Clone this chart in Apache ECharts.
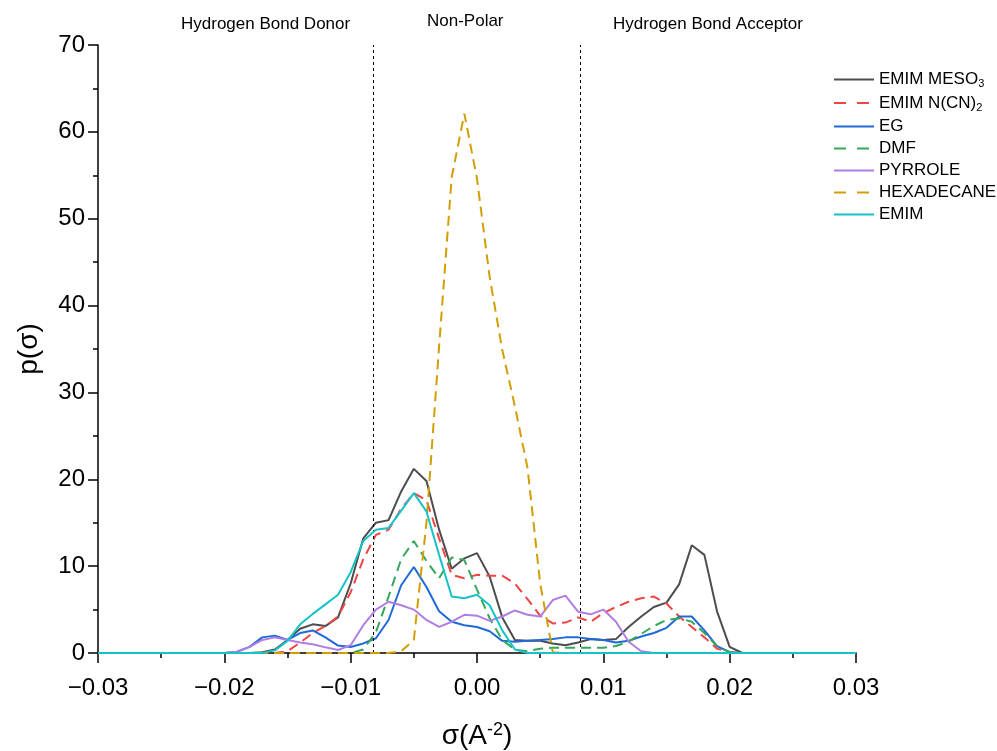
<!DOCTYPE html>
<html>
<head>
<meta charset="utf-8">
<title>Sigma profiles</title>
<script src="https://cdn.jsdelivr.net/npm/echarts@6/dist/echarts.min.js"></script>
<style>
  html, body { margin: 0; padding: 0; background: #fff; }
  #chart { width: 997px; height: 751px; }
</style>
</head>
<body>
<div id="chart"></div>
<script>
// Screening charge density grid, e/Å²
const sigma = [
  -0.030, -0.020, -0.019, -0.018, -0.017, -0.016, -0.015, -0.014, -0.013, -0.012, -0.011,
  -0.010, -0.009, -0.008, -0.007, -0.006, -0.005, -0.004, -0.003, -0.002, -0.001,
  0.000, 0.001, 0.002, 0.003, 0.004, 0.005, 0.006, 0.007, 0.008, 0.009,
  0.010, 0.011, 0.012, 0.013, 0.014, 0.015, 0.016, 0.017, 0.018, 0.019,
  0.020, 0.021, 0.030
];

// p(σ) for each compound on the grid above
const emimMeso3 = [
  0, 0, 0, 0, 0.1, 0.4, 1.5, 2.8, 3.3, 3.1, 4.1,
  8.0, 13.2, 15.0, 15.3, 18.6, 21.2, 19.8, 14.2, 9.7, 10.9,
  11.5, 8.8, 4.1, 1.5, 1.4, 1.4, 1.1, 0.9, 1.2, 1.6,
  1.5, 1.6, 3.0, 4.2, 5.3, 5.8, 7.9, 12.4, 11.3, 4.8,
  0.7, 0, 0
];
const emimNcn2 = [
  0, 0, 0, 0, 0, 0, 0.2, 1.2, 2.3, 3.1, 4.2,
  7.0, 10.8, 13.6, 14.2, 16.6, 18.4, 17.6, 13.2, 9.0, 8.6,
  9.0, 8.9, 8.9, 8.0, 6.2, 4.3, 3.4, 3.5, 4.1, 3.6,
  4.6, 5.3, 5.9, 6.3, 6.5, 5.7, 4.2, 3.0, 1.8, 0.5,
  0.1, 0, 0
];
const eg = [
  0, 0, 0.15, 0.7, 1.8, 2.0, 1.5, 2.3, 2.6, 1.8, 0.85,
  0.7, 1.1, 1.7, 3.8, 7.8, 9.9, 7.6, 4.8, 3.6, 3.2,
  3.0, 2.5, 1.4, 1.3, 1.4, 1.5, 1.6, 1.8, 1.8, 1.6,
  1.5, 1.2, 1.4, 1.9, 2.3, 2.9, 4.2, 4.2, 2.6, 0.8,
  0.1, 0, 0
];
const dmf = [
  0, 0, 0, 0, 0, 0, 0, 0, 0, 0, 0,
  0, 0.4, 2.4, 6.5, 10.8, 12.9, 10.6, 8.6, 11.0, 10.7,
  7.3, 4.0, 1.5, 0.4, 0.2, 0.5, 0.6, 0.6, 0.6, 0.6,
  0.6, 0.8, 1.3, 2.2, 3.1, 3.8, 4.0, 3.6, 2.3, 0.8,
  0.1, 0, 0
];
const pyrrole = [
  0, 0, 0.15, 0.7, 1.5, 1.8, 1.5, 1.2, 1.0, 0.65, 0.35,
  0.9, 3.2, 5.0, 5.9, 5.5, 5.0, 3.8, 3.0, 3.6, 4.4,
  4.3, 3.7, 4.2, 4.9, 4.4, 4.2, 6.1, 6.6, 4.75, 4.45,
  5.0, 3.6, 1.3, 0.2, 0, 0, 0, 0, 0, 0,
  0, 0, 0
];
const hexadecane = [
  0, 0, 0, 0, 0, 0, 0, 0, 0, 0, 0,
  0, 0, 0, 0, 0.2, 1.5, 15.0, 35.3, 54.8, 62.1,
  54.6, 43.3, 34.9, 28.4, 21.3, 8.0, 0.1, 0, 0, 0,
  0, 0, 0, 0, 0, 0, 0, 0, 0, 0,
  0, 0, 0
];
const emim = [
  0, 0, 0, 0, 0, 0.3, 1.4, 3.3, 4.5, 5.6, 6.7,
  9.3, 12.9, 14.2, 14.4, 16.4, 18.4, 16.3, 11.3, 6.5, 6.3,
  6.7, 5.5, 2.6, 0.4, 0, 0, 0, 0, 0, 0,
  0, 0, 0, 0, 0, 0, 0, 0, 0, 0,
  0, 0, 0
];

// Region boundaries (±σ_hb) and the labels above each region
const hbCutoffs = [-0.0082, 0.0082];
const regionLabels = ['Hydrogen Bond Donor', 'Non-Polar', 'Hydrogen Bond Acceptor'];

const seriesDefs = [
  { name: 'EMIM MESO3',   values: emimMeso3,  color: '#4d4d4d', dashed: false },
  { name: 'EMIM N(CN)2',  values: emimNcn2,   color: '#f04545', dashed: true },
  { name: 'EG',           values: eg,         color: '#1f6ad8', dashed: false },
  { name: 'DMF',          values: dmf,        color: '#35a65a', dashed: true },
  { name: 'PYRROLE',      values: pyrrole,    color: '#b07ee2', dashed: false },
  { name: 'HEXADECANE',   values: hexadecane, color: '#d19f05', dashed: true },
  { name: 'EMIM',         values: emim,       color: '#17c3c6', dashed: false }
];

const FONT = '"Liberation Sans", Arial, sans-serif';

const series = seriesDefs.map((d, i) => {
  const s = {
    name: d.name,
    type: 'line',
    symbol: 'none',
    showSymbol: false,
    smooth: false,
    data: sigma.map((x, k) => [x, d.values[k]]),
    lineStyle: { color: d.color, width: 2, type: d.dashed ? [10, 6] : 'solid' },
    itemStyle: { color: d.color },
    z: 2 + i
  };
  if (i === 0) {
    s.markLine = {
      silent: true,
      symbol: 'none',
      precision: 5,
      label: { show: false },
      lineStyle: { color: '#000', width: 1, type: [3, 3] },
      data: hbCutoffs.map(v => ({ xAxis: v }))
    };
  }
  return s;
});

// Legend names with chemical subscripts
function legendText(name) {
  if (name === 'EMIM MESO3') return '{t|EMIM MESO}{sub|3}';
  if (name === 'EMIM N(CN)2') return '{t|EMIM N(CN)}{sub|2}';
  return '{t|' + name + '}';
}

const chart = echarts.init(document.getElementById('chart'), null, { renderer: 'canvas' });

chart.setOption({
  animation: false,
  backgroundColor: '#fff',
  grid: { left: 98, right: 141, top: 45, bottom: 98, containLabel: false, outerBoundsMode: 'none' },
  legend: {
    orient: 'vertical',
    left: 833,
    top: 71,
    padding: 0,
    itemWidth: 40,
    itemHeight: 14,
    itemGap: 5,
    formatter: legendText,
    itemStyle: { opacity: 0 },
    textStyle: {
      fontFamily: FONT,
      fontSize: 17,
      color: '#000',
      rich: {
        t: { fontFamily: FONT, fontSize: 17, color: '#000' },
        sub: { fontFamily: FONT, fontSize: 11, color: '#000', padding: [9, 0, 0, 0] }
      }
    },
    data: seriesDefs.map(d => d.dashed
      ? { name: d.name, lineStyle: { type: [12, 11] } }
      : { name: d.name })
  },
  xAxis: {
    type: 'value',
    min: -0.03,
    max: 0.03,
    interval: 0.01,
    name: '{m|σ(A}{sup|-2}{m|)}',
    nameLocation: 'middle',
    nameGap: 68,
    nameTextStyle: {
      fontFamily: FONT,
      fontSize: 28,
      color: '#000',
      rich: {
        m: { fontFamily: FONT, fontSize: 28, color: '#000' },
        sup: { fontFamily: FONT, fontSize: 18, color: '#000', padding: [0, 0, 12, 0] }
      }
    },
    splitLine: { show: false },
    axisLine: { show: true, onZero: false, lineStyle: { color: '#000', width: 1.5 } },
    axisTick: { show: true, inside: false, length: 10, lineStyle: { color: '#000', width: 1.5 } },
    minorTick: { show: true, splitNumber: 2, length: 5, lineStyle: { color: '#000', width: 1.5 } },
    axisLabel: {
      margin: 23,
      fontFamily: FONT,
      fontSize: 24,
      color: '#000',
      formatter: v => {
        const r = Math.round(v * 100) / 100;
        return (r < 0 ? '\u2212' : '') + Math.abs(r).toFixed(2);
      }
    }
  },
  yAxis: {
    type: 'value',
    min: 0,
    max: 70,
    interval: 10,
    name: 'p(σ)',
    nameLocation: 'middle',
    nameGap: 55,
    nameTextStyle: { fontFamily: FONT, fontSize: 28, color: '#000' },
    splitLine: { show: false },
    axisLine: { show: true, onZero: false, lineStyle: { color: '#000', width: 1.5 } },
    axisTick: { show: true, inside: false, length: 10, lineStyle: { color: '#000', width: 1.5 } },
    minorTick: { show: true, splitNumber: 2, length: 5, lineStyle: { color: '#000', width: 1.5 } },
    axisLabel: { margin: 13, fontFamily: FONT, fontSize: 24, color: '#000' }
  },
  graphic: [
    { type: 'text', left: 181, top: 16, style: { text: regionLabels[0], font: '17px ' + FONT, fill: '#000' } },
    { type: 'text', left: 427, top: 13, style: { text: regionLabels[1], font: '17px ' + FONT, fill: '#000' } },
    { type: 'text', left: 613, top: 16, style: { text: regionLabels[2], font: '17px ' + FONT, fill: '#000' } }
  ],
  series: series
});
</script>
</body>
</html>
